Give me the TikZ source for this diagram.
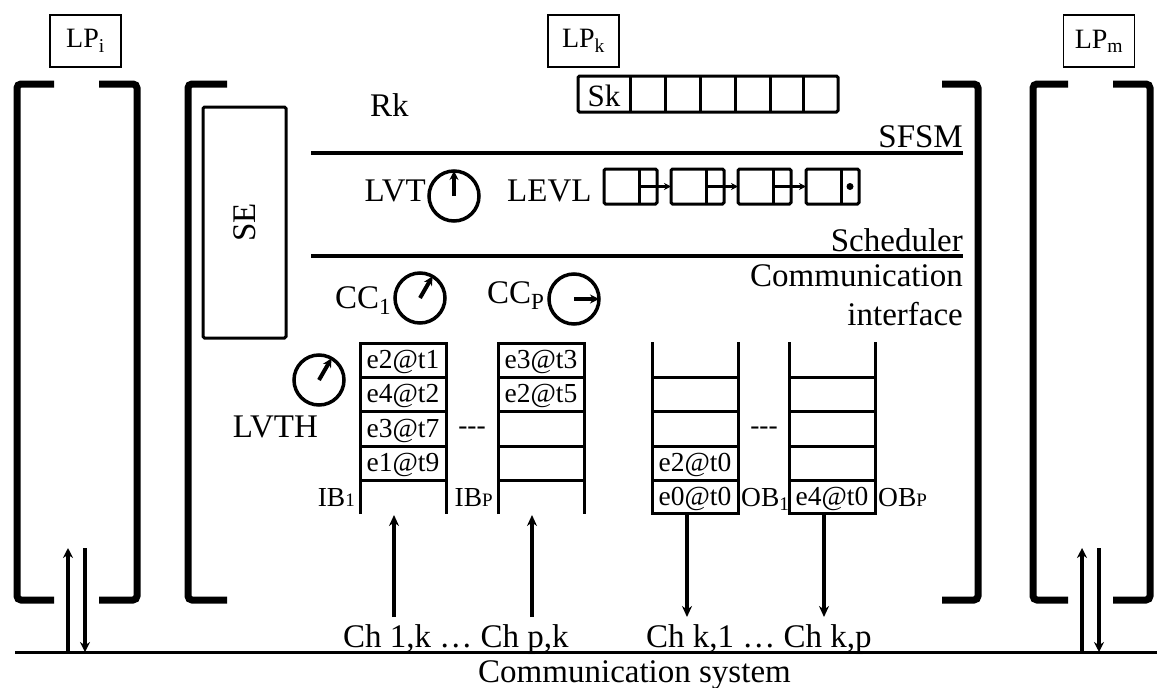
\documentclass[tikz,border=0pt]{standalone}
\usepackage{fontspec}
\setmainfont{Liberation Serif}
\usetikzlibrary{arrows.meta}
\newcommand\smsub[1]{{\fontsize{19}{20}\selectfont #1}}
\begin{document}
\begin{tikzpicture}[x=1pt,y=-1pt,
  big/.style={font=\fontsize{33}{38}\selectfont,inner sep=0pt},
  cell/.style={font=\fontsize{27.5}{30}\selectfont,inner sep=0pt,anchor=base},
  lpbox/.style={draw,line width=1.8pt,minimum width=71pt,minimum height=52pt,inner sep=0pt,font=\fontsize{28}{30}\selectfont},
  brk/.style={line width=7pt,rounded corners=4pt},
  sepline/.style={line width=3.5pt},
  thin/.style={line width=3pt},
  bus/.style={line width=3pt},
  arr/.style={line width=4pt,-{Stealth[length=11pt,width=10pt]}},
  lparr/.style={line width=3.5pt,-{Stealth[length=10pt,width=10pt]}},
  clock/.style={draw,circle,line width=3.5pt,minimum size=50pt,inner sep=0pt},
  hand/.style={line width=4pt,-{Stealth[length=9pt,width=9pt]}},
  lcell/.style={draw,line width=3pt,rounded corners=1.5pt,minimum width=53pt,minimum height=35pt,inner sep=0pt,outer sep=0pt},
  ptr/.style={line width=2.5pt,-{Stealth[length=7pt,width=7pt]}},
  box/.style={line width=3pt,rounded corners=1.5pt},
]
\useasboundingbox (0,0) rectangle (1157,688);
\fill[white] (0,0) rectangle (1157,688);

% LP labels
\node[lpbox] (lpi) at (85.5,41) {LP\textsubscript{i}};
\node[lpbox] (lpk) at (583.5,41) {LP\textsubscript{k}};
\node[lpbox] (lpm) at (1099,41) {LP\textsubscript{m}};

% brackets
\draw[brk] (54,84) -| (17,600) -- (54,600);
\draw[brk] (99,84) -| (137,600) -- (99,600);
\draw[brk] (227,84) -| (188,600) -- (227,600);
\draw[brk] (942,84) -| (978,600) -- (942,600);
\draw[brk] (1068,84) -| (1033,600) -- (1068,600);
\draw[brk] (1113,84) -| (1150,600) -- (1113,600);

% SE
\node[draw,line width=3pt,rounded corners=1.5pt,minimum width=83pt,minimum height=231pt,inner sep=0pt,font=\fontsize{33}{38}\selectfont] (se) at (244.5,222.5) {\rotatebox{90}{SE}};

% Rk and Sk
\node[big,anchor=base west] (rk) at (370,116) {Rk};
\draw[box] (578,76) rectangle (838,112);
\foreach \x in {630,665,700,735,770,803} \draw[thin] (\x,76) -- (\x,112);
\node[inner sep=0pt,anchor=base,font=\fontsize{31}{34}\selectfont] (sk) at (604,106) {Sk};

% separators and layer names
\draw[sepline] (311,153) -- (963,153);
\draw[sepline] (311,256) -- (963,256);
\node[big,anchor=base east] (sfsm) at (963,147) {SFSM};
\node[big,anchor=base east] (sched) at (963,251) {Scheduler};
\node[big,anchor=base east] (comm) at (963,286) {Communication};
\node[big,anchor=base east] (intf) at (963,325) {interface};

% LVT
\node[big,anchor=base east] (lvt) at (426,201) {LVT};
\node[clock] (lvtc) at (454,196) {};
\draw[hand] (lvtc.center) -- ++(0,-25);

% LEVL list
\node[big,anchor=base west] (levl) at (507,201) {LEVL};
\foreach \i/\x in {1/630.5,2/697.5,3/764.5,4/832.5} {
  \node[lcell] (n\i) at (\x,186.5) {};
  \draw[thin] ([xshift=35pt]n\i.north west) -- ([xshift=35pt]n\i.south west);
}
\draw[ptr] ([xshift=35pt]n1.west) -- (n2.west);
\draw[ptr] ([xshift=35pt]n2.west) -- (n3.west);
\draw[ptr] ([xshift=35pt]n3.west) -- (n4.west);
\fill ([xshift=44pt]n4.west) circle (3.5pt);

% CC clocks
\node[big,anchor=base west] (cc1) at (335,308) {CC\textsubscript{1}};
\node[clock] (cc1c) at (420,298) {};
\draw[hand] (cc1c.center) -- ++(12.5,-21.7);
\node[big,anchor=base west] (ccp) at (487,303) {CC\textsubscript{P}};
\node[clock] (ccpc) at (574,299) {};
\draw[hand] (ccpc.center) -- ++(25,0);

% LVTH
\node[clock] (lvthc) at (319,380) {};
\draw[hand] (lvthc.center) -- ++(12.5,-21.7);
\node[big,anchor=base east] (lvth) at (318,437) {LVTH};

% input buffers
\draw[thin] (360,514) -- (360,343) -- (446,343) -- (446,514);
\foreach \y in {377,411,446,480} \draw[thin] (360,\y) -- (446,\y);
\draw[thin] (498,514) -- (498,343) -- (584,343) -- (584,514);
\foreach \y in {377,411,446,480} \draw[thin] (498,\y) -- (584,\y);
\node[cell] (i11) at (403,368) {e2@t1};
\node[cell] (i12) at (403,402) {e4@t2};
\node[cell] (i13) at (403,437) {e3@t7};
\node[cell] (i14) at (403,471) {e1@t9};
\node[cell] (ip1) at (541,368) {e3@t3};
\node[cell] (ip2) at (541,402) {e2@t5};
\node[cell] (idots) at (472,434) {-{}-{}-};
\node[cell,anchor=base east] (ib1) at (355,506) {IB\smsub{1}};
\node[cell,anchor=base east] (ibp) at (493,506) {IB\smsub{P}};

% output buffers
\draw[thin] (652,342) -- (652,513) -- (738,513) -- (738,342);
\foreach \y in {377,411,446,480} \draw[thin] (652,\y) -- (738,\y);
\draw[thin] (789,342) -- (789,513) -- (875,513) -- (875,342);
\foreach \y in {377,411,446,480} \draw[thin] (789,\y) -- (875,\y);
\node[cell] (o14) at (695,471) {e2@t0};
\node[cell] (o15) at (695,505) {e0@t0};
\node[cell] (op5) at (832,505) {e4@t0};
\node[cell] (odots) at (764,434) {-{}-{}-};
\node[cell,anchor=base west] (ob1) at (741,506) {OB\textsubscript{1}};
\node[cell,anchor=base west] (obp) at (878,506) {OB\smsub{P}};

% channel arrows
\coordinate (ib1in) at (394,617); \coordinate (ib1top) at (394,515);
\coordinate (ibpin) at (532,617); \coordinate (ibptop) at (532,515);
\coordinate (ob1bot) at (687,513); \coordinate (ob1out) at (687,617);
\coordinate (obpbot) at (824,513); \coordinate (obpout) at (824,617);
\draw[arr] (ib1in) -- (ib1top);
\draw[arr] (ibpin) -- (ibptop);
\draw[arr] (ob1bot) -- (ob1out);
\draw[arr] (obpbot) -- (obpout);
\node[big,anchor=base west] (chin) at (343,647) {Ch 1,k … Ch p,k};
\node[big,anchor=base west] (chout) at (646,647) {Ch k,1 … Ch k,p};

% communication system
\coordinate (busl) at (15,652); \coordinate (busr) at (1157,652);
\draw[bus] (busl) -- (busr);
\node[big,anchor=base] (cs) at (634.5,682) {Communication system};

% LP links to bus
\coordinate (ia) at (68,652); \coordinate (ib) at (68,548);
\coordinate (ic) at (85,548); \coordinate (id) at (85,652);
\draw[lparr] (ia) -- (ib);
\draw[lparr] (ic) -- (id);
\coordinate (ma) at (1082,652); \coordinate (mb) at (1082,548);
\coordinate (mc) at (1099,548); \coordinate (md) at (1099,652);
\draw[lparr] (ma) -- (mb);
\draw[lparr] (mc) -- (md);
\end{tikzpicture}
\end{document}
